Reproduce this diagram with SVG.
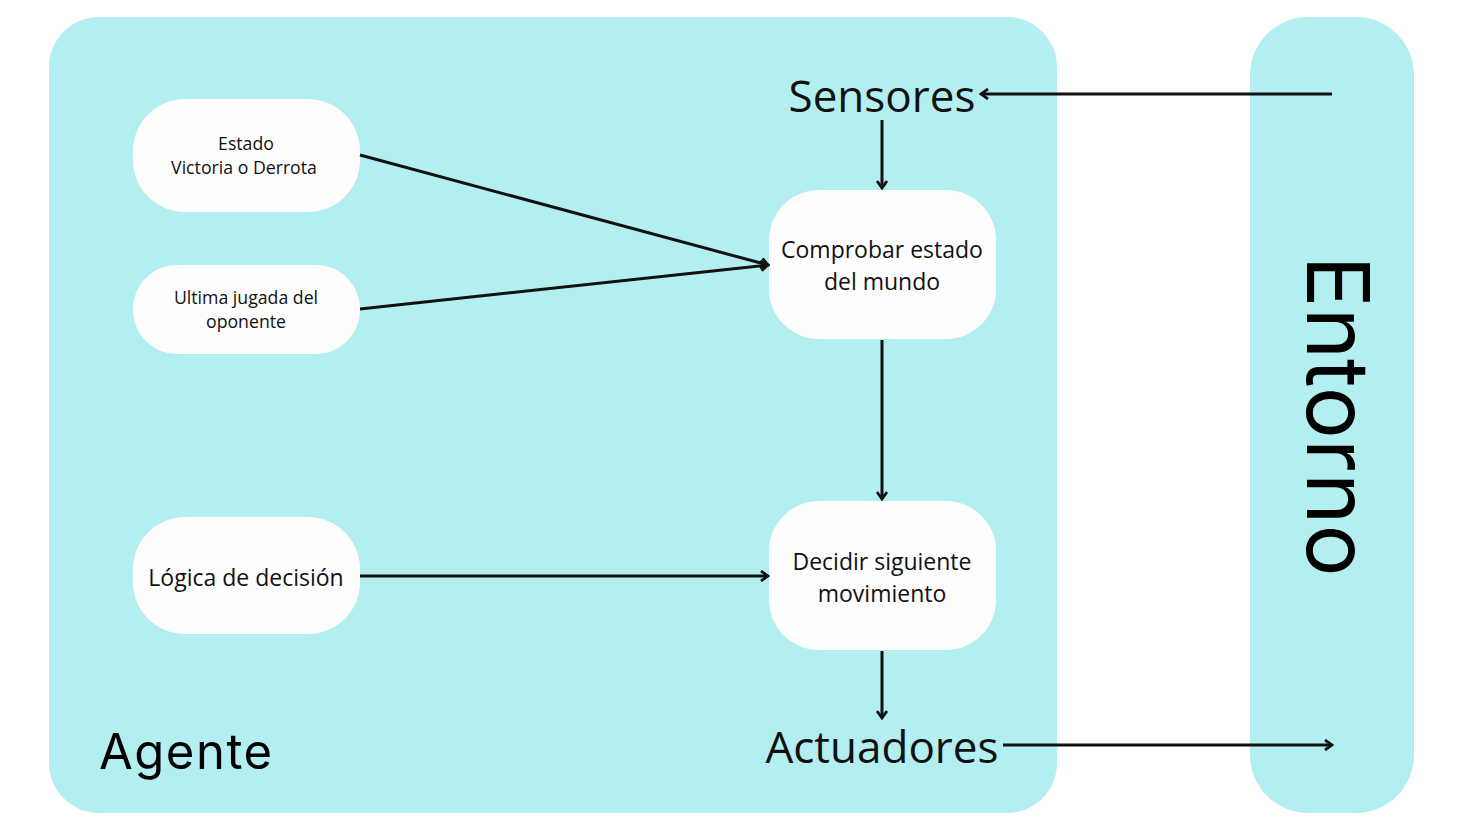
<svg xmlns="http://www.w3.org/2000/svg" width="1459" height="834" viewBox="0 0 1459 834">
<style>
.panel{fill:#B3EEF1}
.node{fill:#FDFDFD}
.t{font-family:"Open Sans","Noto Sans",sans-serif;fill:#111;text-anchor:middle}
.big{font-family:"Inter","Lato",sans-serif;fill:#000}
.c{stroke:#111;stroke-width:3;fill:none;marker-end:url(#ah)}
</style>
<defs>
<marker id="ah" viewBox="0 0 12 12" refX="10" refY="6" markerWidth="12" markerHeight="12" markerUnits="userSpaceOnUse" orient="auto">
<path d="M3,1 L10,6 L3,11" fill="none" stroke="#111" stroke-width="2.8"/>
</marker>
</defs>
<rect width="1459" height="834" fill="#fff"/>
<g id="agente">
<rect class="panel" x="49" y="17" width="1008" height="796" rx="50"/>
<text class="big" x="99" y="769" font-size="49" letter-spacing="1.5">Agente</text>
</g>
<g id="entorno">
<rect class="panel" x="1250" y="17" width="164" height="796" rx="58"/>
<text class="big" font-size="87" text-anchor="middle" transform="translate(1307,416) rotate(90)">Entorno</text>
</g>
<g id="sensores"><text class="t" x="882" y="112" font-size="44">Sensores</text></g>
<g id="actuadores"><text class="t" x="882" y="763" font-size="44">Actuadores</text></g>
<g id="estado">
<rect class="node" x="133" y="99" width="227" height="113" rx="52"/>
<text class="t" x="246" y="150" font-size="17.7">Estado</text>
<text class="t" x="244" y="174" font-size="17.7">Victoria o Derrota</text>
</g>
<g id="ultima">
<rect class="node" x="133" y="265" width="227" height="89" rx="44"/>
<text class="t" x="246" y="304" font-size="17.7">Ultima jugada del</text>
<text class="t" x="246" y="328" font-size="17.7">oponente</text>
</g>
<g id="logica">
<rect class="node" x="133" y="517" width="227" height="117" rx="52"/>
<text class="t" x="246" y="586" font-size="23">Lógica de decisión</text>
</g>
<g id="comprobar">
<rect class="node" x="769" y="190" width="227" height="149" rx="50"/>
<text class="t" x="882" y="258" font-size="23">Comprobar estado</text>
<text class="t" x="882" y="290" font-size="23">del mundo</text>
</g>
<g id="decidir">
<rect class="node" x="769" y="501" width="227" height="149" rx="50"/>
<text class="t" x="882" y="570" font-size="23">Decidir siguiente</text>
<text class="t" x="882" y="602" font-size="23">movimiento</text>
</g>
<g id="connectors">
<line class="c" x1="1332" y1="94" x2="981" y2="94"/>
<line class="c" x1="882" y1="120" x2="882" y2="188"/>
<line class="c" x1="360" y1="155" x2="768" y2="265"/>
<line class="c" x1="360" y1="309" x2="768" y2="265"/>
<line class="c" x1="882" y1="340" x2="882" y2="499"/>
<line class="c" x1="360" y1="576" x2="768" y2="576"/>
<line class="c" x1="882" y1="651" x2="882" y2="718"/>
<line class="c" x1="1003" y1="745" x2="1332" y2="745"/>
</g>
</svg>
